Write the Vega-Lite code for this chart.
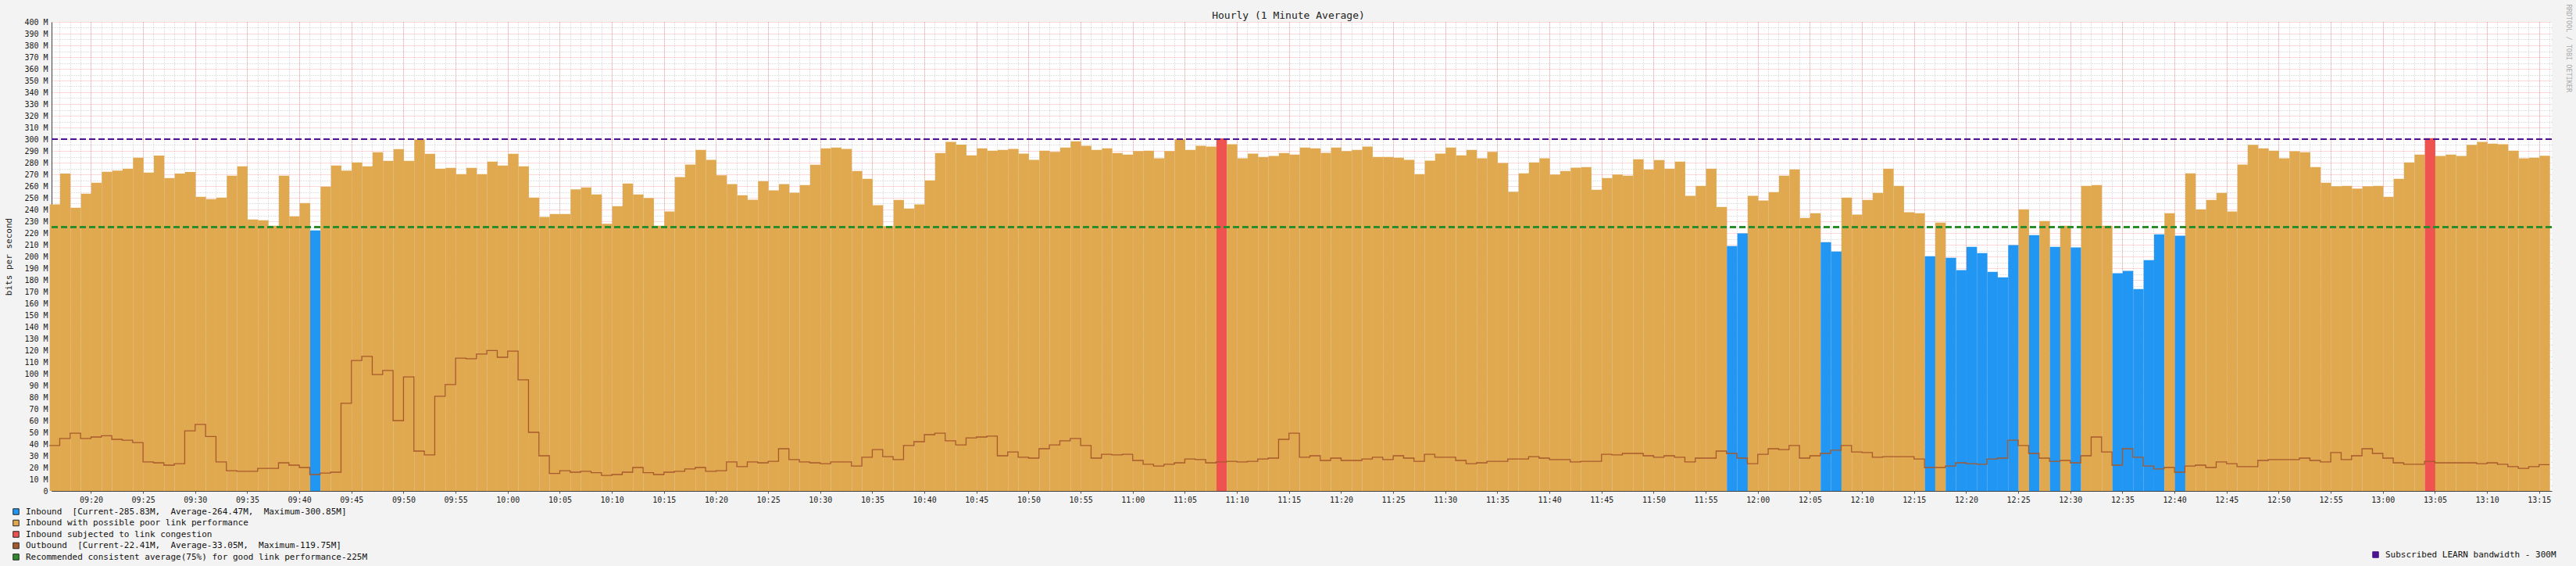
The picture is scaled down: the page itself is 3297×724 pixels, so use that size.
{
  "$schema": "https://vega.github.io/schema/vega-lite/v6.json",
  "width": 3200,
  "height": 600,
  "autosize": {"type": "none"},
  "padding": {"top": 28, "left": 66, "right": 31, "bottom": 96},
  "background": "#f3f3f3",
  "config": {
    "view": {"fill": "#ffffff", "stroke": null},
    "font": "DejaVu Sans Mono",
    "axis": {"zindex": 1}
  },
  "title": {
    "text": "Hourly (1 Minute Average)",
    "font": "DejaVu Sans Mono",
    "fontSize": 13,
    "fontWeight": "normal",
    "color": "#222222",
    "anchor": "middle",
    "frame": "group",
    "dx": -17,
    "offset": -22
  },
  "data": {
    "format": {"parse": {"t": "date:'%H:%M'"}},
    "values": [
      {"t":"09:16","in":244.4,"out":38.7,"c":"p"},
      {"t":"09:17","in":270.7,"out":44.7,"c":"p"},
      {"t":"09:18","in":241.5,"out":49.3,"c":"p"},
      {"t":"09:19","in":253.5,"out":44.7,"c":"p"},
      {"t":"09:20","in":262.9,"out":46,"c":"p"},
      {"t":"09:21","in":272.2,"out":47.1,"c":"p"},
      {"t":"09:22","in":273.2,"out":44,"c":"p"},
      {"t":"09:23","in":274.9,"out":43.3,"c":"p"},
      {"t":"09:24","in":284.2,"out":41.3,"c":"p"},
      {"t":"09:25","in":271.5,"out":24.7,"c":"p"},
      {"t":"09:26","in":286,"out":24,"c":"p"},
      {"t":"09:27","in":266.9,"out":22,"c":"p"},
      {"t":"09:28","in":270.7,"out":23.3,"c":"p"},
      {"t":"09:29","in":272,"out":51.3,"c":"p"},
      {"t":"09:30","in":250.9,"out":56.7,"c":"p"},
      {"t":"09:31","in":248.9,"out":46.4,"c":"p"},
      {"t":"09:32","in":250.2,"out":24.7,"c":"p"},
      {"t":"09:33","in":268.9,"out":17.3,"c":"p"},
      {"t":"09:34","in":276.9,"out":16.7,"c":"p"},
      {"t":"09:35","in":231.5,"out":16.7,"c":"p"},
      {"t":"09:36","in":230.9,"out":19.3,"c":"p"},
      {"t":"09:37","in":226.2,"out":19.3,"c":"p"},
      {"t":"09:38","in":268.9,"out":24,"c":"p"},
      {"t":"09:39","in":234.2,"out":22,"c":"p"},
      {"t":"09:40","in":245.5,"out":20,"c":"p"},
      {"t":"09:41","in":222.2,"out":14,"c":"i"},
      {"t":"09:42","in":259.5,"out":15.3,"c":"p"},
      {"t":"09:43","in":277.5,"out":16,"c":"p"},
      {"t":"09:44","in":273.2,"out":74.7,"c":"p"},
      {"t":"09:45","in":280.2,"out":111.3,"c":"p"},
      {"t":"09:46","in":276.9,"out":114.7,"c":"p"},
      {"t":"09:47","in":288.9,"out":99.3,"c":"p"},
      {"t":"09:48","in":281.5,"out":102.7,"c":"p"},
      {"t":"09:49","in":291.5,"out":60,"c":"p"},
      {"t":"09:50","in":281.5,"out":97.3,"c":"p"},
      {"t":"09:51","in":299.5,"out":34,"c":"p"},
      {"t":"09:52","in":287.5,"out":30.7,"c":"p"},
      {"t":"09:53","in":274.9,"out":80.7,"c":"p"},
      {"t":"09:54","in":275.5,"out":90.7,"c":"p"},
      {"t":"09:55","in":270.2,"out":113.3,"c":"p"},
      {"t":"09:56","in":275.5,"out":112.7,"c":"p"},
      {"t":"09:57","in":270.2,"out":116.7,"c":"p"},
      {"t":"09:58","in":280.9,"out":119.75,"c":"p"},
      {"t":"09:59","in":277.5,"out":114,"c":"p"},
      {"t":"10:00","in":287.5,"out":119.3,"c":"p"},
      {"t":"10:01","in":276.9,"out":94.7,"c":"p"},
      {"t":"10:02","in":250.2,"out":50,"c":"p"},
      {"t":"10:03","in":233.7,"out":30,"c":"p"},
      {"t":"10:04","in":236.2,"out":14.9,"c":"p"},
      {"t":"10:05","in":236.2,"out":17.3,"c":"p"},
      {"t":"10:06","in":257.1,"out":16,"c":"p"},
      {"t":"10:07","in":258.9,"out":16.7,"c":"p"},
      {"t":"10:08","in":252.9,"out":15.6,"c":"p"},
      {"t":"10:09","in":227.8,"out":13.3,"c":"p"},
      {"t":"10:10","in":242.9,"out":14,"c":"p"},
      {"t":"10:11","in":262.2,"out":16,"c":"p"},
      {"t":"10:12","in":252.9,"out":20,"c":"p"},
      {"t":"10:13","in":249.8,"out":15.6,"c":"p"},
      {"t":"10:14","in":226.2,"out":14,"c":"p"},
      {"t":"10:15","in":238.4,"out":16,"c":"p"},
      {"t":"10:16","in":267.6,"out":16.7,"c":"p"},
      {"t":"10:17","in":278.4,"out":18.7,"c":"p"},
      {"t":"10:18","in":290.9,"out":20,"c":"p"},
      {"t":"10:19","in":282.4,"out":16.7,"c":"p"},
      {"t":"10:20","in":269.1,"out":17.3,"c":"p"},
      {"t":"10:21","in":261.6,"out":24.7,"c":"p"},
      {"t":"10:22","in":252.2,"out":20.7,"c":"p"},
      {"t":"10:23","in":248.4,"out":24.7,"c":"p"},
      {"t":"10:24","in":264.2,"out":24,"c":"p"},
      {"t":"10:25","in":256.4,"out":25.3,"c":"p"},
      {"t":"10:26","in":261.6,"out":36,"c":"p"},
      {"t":"10:27","in":254.4,"out":26.7,"c":"p"},
      {"t":"10:28","in":260.9,"out":24.7,"c":"p"},
      {"t":"10:29","in":278.2,"out":24,"c":"p"},
      {"t":"10:30","in":292.2,"out":23.3,"c":"p"},
      {"t":"10:31","in":292.9,"out":24.7,"c":"p"},
      {"t":"10:32","in":291.6,"out":24.7,"c":"p"},
      {"t":"10:33","in":272.9,"out":21.3,"c":"p"},
      {"t":"10:34","in":266.2,"out":28.7,"c":"p"},
      {"t":"10:35","in":243.6,"out":35.3,"c":"p"},
      {"t":"10:36","in":225.8,"out":29.3,"c":"p"},
      {"t":"10:37","in":248.2,"out":26.7,"c":"p"},
      {"t":"10:38","in":240.9,"out":38.7,"c":"p"},
      {"t":"10:39","in":244.4,"out":42,"c":"p"},
      {"t":"10:40","in":264.9,"out":48,"c":"p"},
      {"t":"10:41","in":288.2,"out":49.3,"c":"p"},
      {"t":"10:42","in":297.6,"out":42.7,"c":"p"},
      {"t":"10:43","in":295.3,"out":39.3,"c":"p"},
      {"t":"10:44","in":286.2,"out":45.3,"c":"p"},
      {"t":"10:45","in":292.2,"out":46,"c":"p"},
      {"t":"10:46","in":290.2,"out":46.7,"c":"p"},
      {"t":"10:47","in":290.9,"out":30,"c":"p"},
      {"t":"10:48","in":291.6,"out":33.3,"c":"p"},
      {"t":"10:49","in":287.6,"out":28.7,"c":"p"},
      {"t":"10:50","in":282.4,"out":28,"c":"p"},
      {"t":"10:51","in":290.2,"out":36,"c":"p"},
      {"t":"10:52","in":289.1,"out":39.3,"c":"p"},
      {"t":"10:53","in":292.9,"out":42.7,"c":"p"},
      {"t":"10:54","in":298.2,"out":44.7,"c":"p"},
      {"t":"10:55","in":294.4,"out":38.7,"c":"p"},
      {"t":"10:56","in":290.9,"out":28,"c":"p"},
      {"t":"10:57","in":292.2,"out":31.3,"c":"p"},
      {"t":"10:58","in":288.2,"out":30.7,"c":"p"},
      {"t":"10:59","in":286.9,"out":31.3,"c":"p"},
      {"t":"11:00","in":289.8,"out":26,"c":"p"},
      {"t":"11:01","in":290.2,"out":22.7,"c":"p"},
      {"t":"11:02","in":283.6,"out":21.3,"c":"p"},
      {"t":"11:03","in":289.8,"out":22.7,"c":"p"},
      {"t":"11:04","in":299.8,"out":24,"c":"p"},
      {"t":"11:05","in":290.9,"out":27.3,"c":"p"},
      {"t":"11:06","in":294.4,"out":26.7,"c":"p"},
      {"t":"11:07","in":293.6,"out":24,"c":"p"},
      {"t":"11:08","in":300.6,"out":24.7,"c":"c"},
      {"t":"11:09","in":295.6,"out":25.3,"c":"p"},
      {"t":"11:10","in":283.6,"out":24.7,"c":"p"},
      {"t":"11:11","in":287.6,"out":25.3,"c":"p"},
      {"t":"11:12","in":284.9,"out":27.3,"c":"p"},
      {"t":"11:13","in":285.6,"out":28,"c":"p"},
      {"t":"11:14","in":288.2,"out":44,"c":"p"},
      {"t":"11:15","in":286.9,"out":49.3,"c":"p"},
      {"t":"11:16","in":292.9,"out":28.7,"c":"p"},
      {"t":"11:17","in":292.2,"out":30,"c":"p"},
      {"t":"11:18","in":288.4,"out":26,"c":"p"},
      {"t":"11:19","in":292.9,"out":28,"c":"p"},
      {"t":"11:20","in":289.8,"out":26,"c":"p"},
      {"t":"11:21","in":290.9,"out":26,"c":"p"},
      {"t":"11:22","in":293.6,"out":27.3,"c":"p"},
      {"t":"11:23","in":284.9,"out":28.7,"c":"p"},
      {"t":"11:24","in":284.9,"out":26.7,"c":"p"},
      {"t":"11:25","in":284.2,"out":30,"c":"p"},
      {"t":"11:26","in":282.4,"out":28,"c":"p"},
      {"t":"11:27","in":270.2,"out":25.3,"c":"p"},
      {"t":"11:28","in":281.6,"out":31.3,"c":"p"},
      {"t":"11:29","in":287.6,"out":28.7,"c":"p"},
      {"t":"11:30","in":292.9,"out":28.7,"c":"p"},
      {"t":"11:31","in":286.2,"out":26,"c":"p"},
      {"t":"11:32","in":290.9,"out":23.3,"c":"p"},
      {"t":"11:33","in":283.6,"out":24,"c":"p"},
      {"t":"11:34","in":289.1,"out":25.3,"c":"p"},
      {"t":"11:35","in":279.6,"out":25.3,"c":"p"},
      {"t":"11:36","in":255.1,"out":27.3,"c":"p"},
      {"t":"11:37","in":270.9,"out":27.3,"c":"p"},
      {"t":"11:38","in":280.2,"out":29.3,"c":"p"},
      {"t":"11:39","in":283.6,"out":28,"c":"p"},
      {"t":"11:40","in":269.8,"out":26.7,"c":"p"},
      {"t":"11:41","in":272.9,"out":26.7,"c":"p"},
      {"t":"11:42","in":275.6,"out":24.7,"c":"p"},
      {"t":"11:43","in":276.2,"out":25.3,"c":"p"},
      {"t":"11:44","in":256.9,"out":25.3,"c":"p"},
      {"t":"11:45","in":266.9,"out":31.3,"c":"p"},
      {"t":"11:46","in":269.8,"out":30.7,"c":"p"},
      {"t":"11:47","in":268.9,"out":32,"c":"p"},
      {"t":"11:48","in":282.9,"out":32,"c":"p"},
      {"t":"11:49","in":274.2,"out":30,"c":"p"},
      {"t":"11:50","in":282.2,"out":28.7,"c":"p"},
      {"t":"11:51","in":274.9,"out":30,"c":"p"},
      {"t":"11:52","in":280.9,"out":28.7,"c":"p"},
      {"t":"11:53","in":251.6,"out":24.7,"c":"p"},
      {"t":"11:54","in":260.2,"out":28,"c":"p"},
      {"t":"11:55","in":274.9,"out":28,"c":"p"},
      {"t":"11:56","in":242.2,"out":34,"c":"p"},
      {"t":"11:57","in":208.9,"out":32,"c":"i"},
      {"t":"11:58","in":219.6,"out":28,"c":"i"},
      {"t":"11:59","in":251.6,"out":23.3,"c":"p"},
      {"t":"12:00","in":247.6,"out":31.3,"c":"p"},
      {"t":"12:01","in":254.9,"out":36,"c":"p"},
      {"t":"12:02","in":268.9,"out":35.3,"c":"p"},
      {"t":"12:03","in":274.2,"out":38.7,"c":"p"},
      {"t":"12:04","in":232.9,"out":28,"c":"p"},
      {"t":"12:05","in":236.9,"out":30,"c":"p"},
      {"t":"12:06","in":212.2,"out":32,"c":"i"},
      {"t":"12:07","in":204.2,"out":34.7,"c":"i"},
      {"t":"12:08","in":250.2,"out":38.7,"c":"p"},
      {"t":"12:09","in":235.6,"out":33.3,"c":"p"},
      {"t":"12:10","in":248.2,"out":32.7,"c":"p"},
      {"t":"12:11","in":254.2,"out":28.7,"c":"p"},
      {"t":"12:12","in":274.9,"out":29.3,"c":"p"},
      {"t":"12:13","in":260.2,"out":29.3,"c":"p"},
      {"t":"12:14","in":237.6,"out":29.3,"c":"p"},
      {"t":"12:15","in":236.9,"out":27.3,"c":"p"},
      {"t":"12:16","in":200.2,"out":20,"c":"i"},
      {"t":"12:17","in":228.9,"out":20,"c":"p"},
      {"t":"12:18","in":198.9,"out":21.3,"c":"i"},
      {"t":"12:19","in":188.4,"out":24,"c":"i"},
      {"t":"12:20","in":208.2,"out":23.3,"c":"i"},
      {"t":"12:21","in":202.9,"out":22.7,"c":"i"},
      {"t":"12:22","in":186.9,"out":27.3,"c":"i"},
      {"t":"12:23","in":182.2,"out":28,"c":"i"},
      {"t":"12:24","in":209.6,"out":43.3,"c":"i"},
      {"t":"12:25","in":240.2,"out":38.7,"c":"p"},
      {"t":"12:26","in":218.2,"out":32,"c":"i"},
      {"t":"12:27","in":230.2,"out":28,"c":"p"},
      {"t":"12:28","in":208.2,"out":25.3,"c":"i"},
      {"t":"12:29","in":226.2,"out":26,"c":"p"},
      {"t":"12:30","in":207.6,"out":24,"c":"i"},
      {"t":"12:31","in":260.2,"out":30,"c":"p"},
      {"t":"12:32","in":260.9,"out":46,"c":"p"},
      {"t":"12:33","in":226.2,"out":33.3,"c":"p"},
      {"t":"12:34","in":185.6,"out":22,"c":"i"},
      {"t":"12:35","in":187.6,"out":36,"c":"i"},
      {"t":"12:36","in":172.2,"out":28.7,"c":"i"},
      {"t":"12:37","in":196.9,"out":21.3,"c":"i"},
      {"t":"12:38","in":218.9,"out":18.7,"c":"i"},
      {"t":"12:39","in":236.9,"out":20,"c":"p"},
      {"t":"12:40","in":217.6,"out":16,"c":"i"},
      {"t":"12:41","in":270.9,"out":21.3,"c":"p"},
      {"t":"12:42","in":240.2,"out":22,"c":"p"},
      {"t":"12:43","in":248.2,"out":20,"c":"p"},
      {"t":"12:44","in":254.2,"out":24.7,"c":"p"},
      {"t":"12:45","in":238.4,"out":23.3,"c":"p"},
      {"t":"12:46","in":278.4,"out":20.7,"c":"p"},
      {"t":"12:47","in":295.1,"out":20.7,"c":"p"},
      {"t":"12:48","in":292.2,"out":26,"c":"p"},
      {"t":"12:49","in":290.2,"out":26.7,"c":"p"},
      {"t":"12:50","in":283.6,"out":26.7,"c":"p"},
      {"t":"12:51","in":289.6,"out":26.7,"c":"p"},
      {"t":"12:52","in":288.9,"out":28,"c":"p"},
      {"t":"12:53","in":276.2,"out":26,"c":"p"},
      {"t":"12:54","in":262.9,"out":24.7,"c":"p"},
      {"t":"12:55","in":259.8,"out":32.7,"c":"p"},
      {"t":"12:56","in":260.2,"out":26.7,"c":"p"},
      {"t":"12:57","in":257.8,"out":30,"c":"p"},
      {"t":"12:58","in":259.8,"out":36,"c":"p"},
      {"t":"12:59","in":260.2,"out":32,"c":"p"},
      {"t":"13:00","in":250.9,"out":28,"c":"p"},
      {"t":"13:01","in":266.2,"out":24,"c":"p"},
      {"t":"13:02","in":280.2,"out":22.7,"c":"p"},
      {"t":"13:03","in":286.9,"out":22.7,"c":"p"},
      {"t":"13:04","in":300.85,"out":25.3,"c":"c"},
      {"t":"13:05","in":285.6,"out":24,"c":"p"},
      {"t":"13:06","in":286.9,"out":24,"c":"p"},
      {"t":"13:07","in":285.6,"out":24,"c":"p"},
      {"t":"13:08","in":295.1,"out":24,"c":"p"},
      {"t":"13:09","in":297.6,"out":23.3,"c":"p"},
      {"t":"13:10","in":296.2,"out":24,"c":"p"},
      {"t":"13:11","in":295.6,"out":22.7,"c":"p"},
      {"t":"13:12","in":290.2,"out":20.7,"c":"p"},
      {"t":"13:13","in":283.6,"out":19.3,"c":"p"},
      {"t":"13:14","in":284.2,"out":20.7,"c":"p"},
      {"t":"13:15","in":285.83,"out":22.41,"c":"p"},
      {"t":"13:16","out":22.41}
    ]
  },
  "layer": [
    {
      "mark": {"type": "bar", "binSpacing": 0},
      "encoding": {
        "x": {
          "field": "t",
          "type": "temporal",
          "timeUnit": "yearmonthdatehoursminutes",
          "scale": {
            "domain": [
              {"year": 1900, "month": 1, "date": 1, "hours": 9, "minutes": 16, "seconds": 13},
              {"year": 1900, "month": 1, "date": 1, "hours": 13, "minutes": 16, "seconds": 13}
            ],
            "nice": false
          },
          "axis": {
            "orient": "bottom",
            "title": null,
            "labels": false,
            "ticks": false,
            "domain": false,
            "tickCount": 240,
            "grid": true,
            "gridColor": "#808080",
            "gridOpacity": 0.45,
            "gridDash": [1, 2],
            "gridWidth": 1
          }
        },
        "y": {
          "field": "in",
          "type": "quantitative",
          "scale": {"domain": [0, 400], "nice": false, "zero": true},
          "axis": {
            "orient": "right",
            "labels": false,
            "ticks": false,
            "domain": false,
            "values": [5,15,25,35,45,55,65,75,85,95,105,115,125,135,145,155,165,175,185,195,205,215,225,235,245,255,265,275,285,295,305,315,325,335,345,355,365,375,385,395],
            "grid": true,
            "gridColor": "#808080",
            "gridOpacity": 0.45,
            "gridDash": [1, 2],
            "title": "RRDTOOL / TOBI OETIKER",
            "titleFont": "DejaVu Sans Mono",
            "titleFontSize": 8.5,
            "titleFontWeight": "normal",
            "titleColor": "#aaaaaa",
            "titleAngle": 90,
            "titleAlign": "left",
            "titleBaseline": "middle",
            "titleX": 21,
            "titleY": -23
          }
        },
        "color": {
          "field": "c",
          "type": "nominal",
          "scale": {
            "domain": ["i", "p", "c", "o", "r"],
            "range": ["#2196f3", "#e1a94f", "#ef5350", "#a65a2c", "#2e8b2e"]
          },
          "legend": {
            "orient": "none",
            "legendX": -51,
            "legendY": 621,
            "title": null,
            "direction": "vertical",
            "padding": 0,
            "symbolType": "square",
            "symbolSize": 56,
            "symbolStrokeColor": "#222222",
            "symbolStrokeWidth": 1,
            "labelFont": "DejaVu Sans Mono",
            "labelFontSize": 11,
            "labelColor": "#111111",
            "labelOffset": 7,
            "labelLimit": 2000,
            "rowPadding": 1.5,
            "labelExpr": "datum.value == 'i' ? 'Inbound\u00a0 [Current-285.83M,\u00a0 Average-264.47M,\u00a0 Maximum-300.85M]' : datum.value == 'p' ? 'Inbound with possible poor link performance' : datum.value == 'c' ? 'Inbound subjected to link congestion' : datum.value == 'o' ? 'Outbound\u00a0 [Current-22.41M,\u00a0 Average-33.05M,\u00a0 Maximum-119.75M]' : 'Recommended consistent average(75%) for good link performance-225M'"
          }
        }
      }
    },
    {
      "mark": {"type": "line", "interpolate": "step-after", "color": "#a65a2c", "strokeWidth": 1.3},
      "encoding": {
        "x": {
          "field": "t",
          "type": "temporal",
          "scale": {
            "domain": [
              {"year": 1900, "month": 1, "date": 1, "hours": 9, "minutes": 16, "seconds": 13},
              {"year": 1900, "month": 1, "date": 1, "hours": 13, "minutes": 16, "seconds": 13}
            ],
            "nice": false
          },
          "axis": {
            "orient": "bottom",
            "title": null,
            "format": "%H:%M",
            "tickCount": 48,
            "labelFont": "DejaVu Sans Mono",
            "labelFontSize": 10,
            "labelColor": "#1a1a1a",
            "labelPadding": 3,
            "labelFlush": false,
            "labelOverlap": false,
            "ticks": true,
            "tickSize": 3,
            "tickColor": "#555555",
            "domain": true,
            "domainColor": "#444444",
            "domainWidth": 1,
            "grid": true,
            "gridColor": "#ff0000",
            "gridOpacity": 0.3,
            "gridDash": [1, 1],
            "gridWidth": 1
          }
        },
        "y": {
          "field": "out",
          "type": "quantitative",
          "scale": {"domain": [0, 400], "nice": false},
          "axis": {
            "orient": "left",
            "values": [0,10,20,30,40,50,60,70,80,90,100,110,120,130,140,150,160,170,180,190,200,210,220,230,240,250,260,270,280,290,300,310,320,330,340,350,360,370,380,390,400],
            "labelExpr": "datum.value == 0 ? '0' : datum.value + ' M'",
            "labelFont": "DejaVu Sans Mono",
            "labelFontSize": 10,
            "labelColor": "#1a1a1a",
            "labelPadding": 5,
            "ticks": false,
            "domain": true,
            "domainColor": "#444444",
            "grid": true,
            "gridColor": "#ff0000",
            "gridOpacity": 0.3,
            "gridDash": [1, 1],
            "title": "bits per second",
            "titleFont": "DejaVu Sans Mono",
            "titleFontSize": 11,
            "titleFontWeight": "normal",
            "titleColor": "#222222",
            "titleAngle": 270,
            "titleAlign": "center",
            "titleBaseline": "middle",
            "titleX": -55,
            "titleY": 300
          }
        }
      }
    },
    {
      "mark": {"type": "rule", "color": "#2e8b2e", "strokeWidth": 1.5, "strokeDash": [8, 4]},
      "encoding": {"y": {"datum": 225, "type": "quantitative", "axis": null}}
    },
    {
      "mark": {"type": "rule", "strokeWidth": 1.5, "strokeDash": [8, 4]},
      "encoding": {
        "y": {"datum": 300, "type": "quantitative", "axis": null},
        "stroke": {
          "datum": "Subscribed LEARN bandwidth - 300M",
          "type": "nominal",
          "scale": {"range": ["#4a148c"]},
          "legend": {
            "orient": "none",
            "legendX": 2969,
            "legendY": 676,
            "title": null,
            "padding": 0,
            "symbolType": "square",
            "symbolSize": 56,
            "symbolFillColor": "#4a148c",
            "symbolStrokeWidth": 1,
            "labelFont": "DejaVu Sans Mono",
            "labelFontSize": 11,
            "labelColor": "#111111",
            "labelOffset": 7,
            "labelLimit": 2000
          }
        }
      }
    }
  ],
  "resolve": {"axis": {"x": "independent", "y": "independent"}}
}
